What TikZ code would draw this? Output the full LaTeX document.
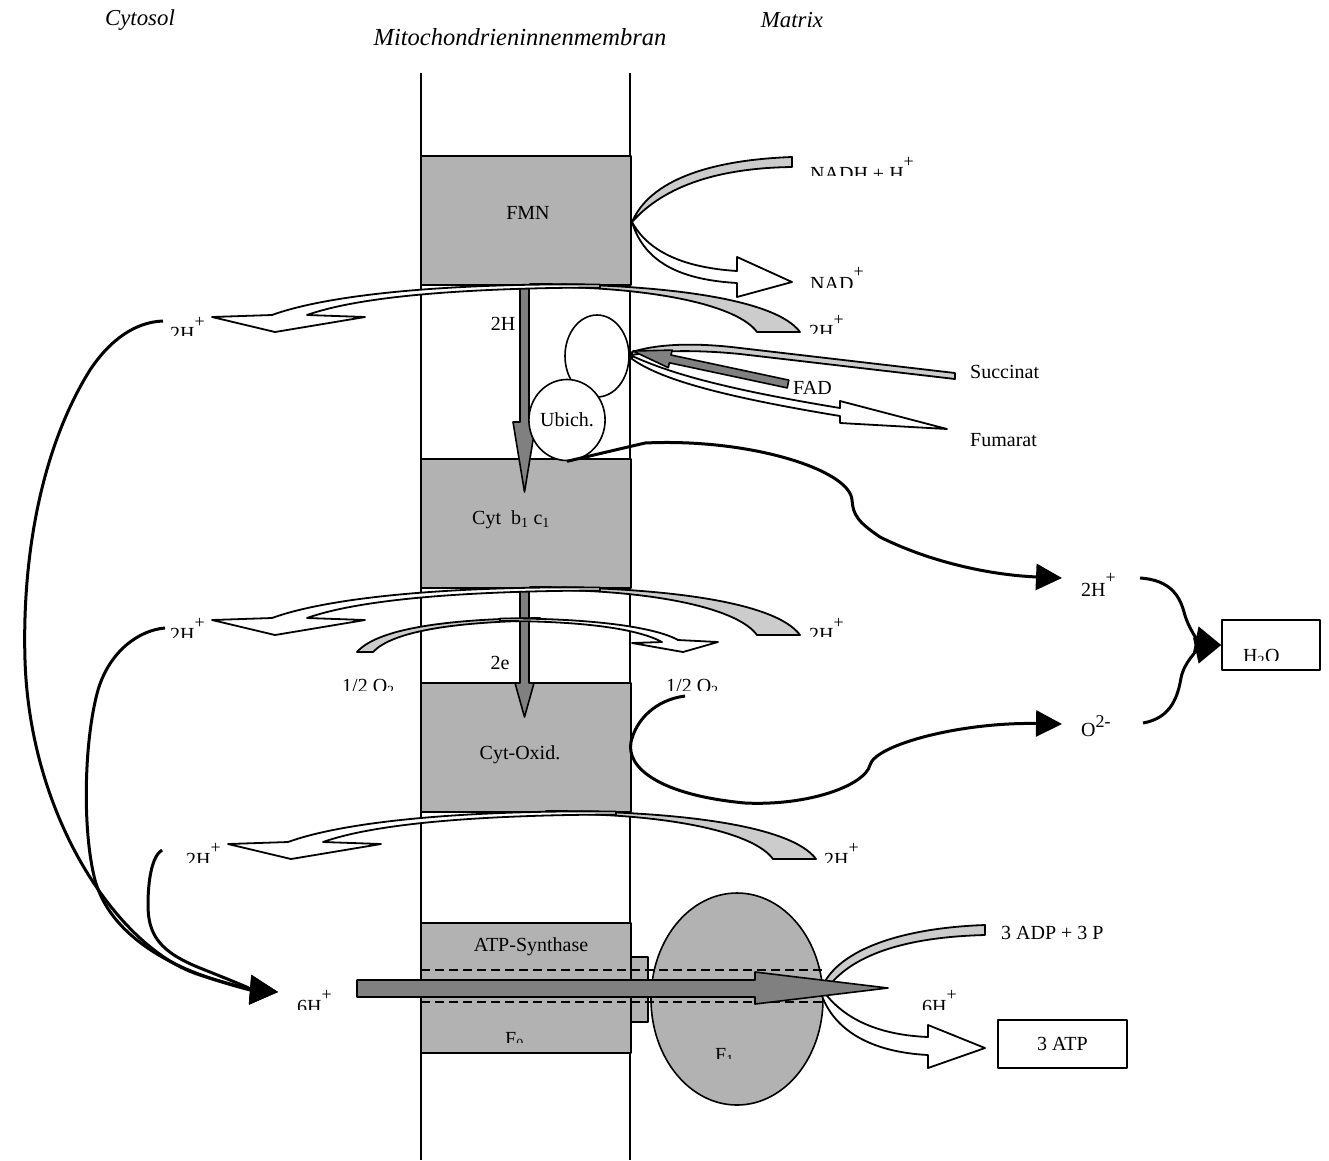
\documentclass[tikz,border=0pt]{standalone}
\usepackage{fontspec}
\setmainfont{Liberation Serif}
\usetikzlibrary{arrows.meta,shapes.geometric}
\definecolor{boxgray}{HTML}{B2B2B2}
\definecolor{arrgray}{HTML}{808080}
\definecolor{lightg}{HTML}{CCCCCC}
\newcommand\spp[1]{\raisebox{13pt}{\fontsize{18}{18}\selectfont #1}}
\newcommand\sppo[1]{\raisebox{9pt}{\fontsize{18}{18}\selectfont #1}}
% clipped label: name, x-left, cap-top, clip-y, text
\newcommand\clab[5]{\begin{scope}\clip (#2-10,#3-40) rectangle (#2+220,#4);\node[lab,anchor=base west] (#1) at (#2,#3+13) {#5};\end{scope}}
\newcommand\protonarc{%
  \filldraw[arcline, fill=lightg] (530,284) .. controls (660,284) and (775,298) .. (800,332) -- (757,332) .. controls (738,306) and (660,289) .. (560,287) -- cycle;
  \filldraw[arcline, fill=white] (600,284.5) .. controls (450,283) and (330,294) .. (272,315) -- (212,317) -- (275,332) -- (365,317) -- (307,315) .. controls (355,298) and (450,288) .. (600,287.5) -- cycle;}
\begin{document}
\begin{tikzpicture}[x=1pt,y=-1pt,line join=round,
  lab/.style={inner sep=0pt, font=\fontsize{20}{23}\selectfont},
  hdr/.style={inner sep=0pt, font=\fontsize{22.8}{26}\selectfont\itshape},
  cbox/.style={draw=black, line width=1.6pt, fill=boxgray, minimum width=210pt, inner sep=0pt},
  mem/.style={line width=1.6pt},
  arcline/.style={draw=black, line width=1.8pt},
  conn/.style={line width=3pt, -{Triangle[length=26pt,width=26pt]}},
  garrow/.style={draw=black, line width=1.6pt, fill=arrgray},
  ell/.style={draw=black, line width=1.6pt, fill=white, ellipse, inner sep=0pt},
  plainbox/.style={draw=black, line width=1.6pt, fill=white, inner sep=0pt}]
\useasboundingbox (0,0) rectangle (1329,1160);
% membrane
\coordinate (mlt) at (421,73); \coordinate (mlb) at (421,1160);
\coordinate (mrt) at (630,73); \coordinate (mrb) at (630,1160);
\draw[mem] (mlt) -- (mlb);
\draw[mem] (mrt) -- (mrb);
% complexes
\node[cbox, minimum height=129pt] (fmn) at (526,220.5) {};
\node[cbox, minimum height=129pt] (cytb) at (526,523.5) {};
\node[cbox, minimum height=129pt] (cytox) at (526,747.5) {};
\node[cbox, minimum height=130pt] (atps) at (526,988) {};
% vertical electron arrows
\filldraw[garrow] (520,286) -- (520,422) -- (513,422) -- (524.5,492) -- (536,422) -- (529,422) -- (529,286) -- cycle;
\filldraw[garrow] (520,589) -- (520,683) -- (515,683) -- (524.5,717) -- (534,683) -- (529,683) -- (529,589) -- cycle;
% ubichinon
\node[ell, minimum width=64pt, minimum height=82pt] (ub1) at (597,356) {};
\node[ell, minimum width=64pt, minimum height=81pt, font=\fontsize{20}{23}\selectfont] (ubich) at (567,420) {Ubich.};
% proton arcs
\protonarc
\begin{scope}[shift={(0,303)}]\protonarc\end{scope}
\begin{scope}[shift={(16,527)}]\protonarc\end{scope}
% small arc (1/2 O2)
\filldraw[arcline, fill=lightg] (357,652) .. controls (378,628) and (450,619) .. (540,618) -- (540,620.5) .. controls (450,622) and (392,632) .. (373,652) -- cycle;
\filldraw[arcline, fill=white] (500,618.5) .. controls (590,618) and (655,627) .. (678,640) -- (718,642) -- (683,652) -- (632,643) -- (662,642) .. controls (640,630) and (590,621) .. (500,621) -- cycle;
% NADH / NAD
\filldraw[arcline, fill=lightg] (632,222) .. controls (650,180) and (710,160) .. (792,157) -- (792,167) .. controls (720,168) and (665,185) .. (632,222) -- cycle;
\filldraw[arcline, fill=white] (632,222) .. controls (650,255) and (690,268) .. (737,271) -- (737,257) -- (792,282) -- (737,297) -- (737,283) .. controls (685,280) and (645,265) .. (632,222) -- cycle;
% Succinat / Fumarat
\filldraw[arcline, fill=lightg] (632,352) .. controls (660,343) and (700,343) .. (740,348) -- (955,373) -- (955,379) -- (740,354) .. controls (700,350) and (660,350) .. (632,355) -- cycle;
\filldraw[arcline, fill=white] (632,356) .. controls (660,368) and (700,385) .. (840,408) -- (840,401) -- (947,429) -- (840,423) -- (840,416) .. controls (700,393) and (655,375) .. (632,359) -- cycle;
% FAD arrow
\filldraw[garrow] (788.8,380.1) -- (671.0,355.0) -- (672.1,350.1) -- (633,351) -- (668.3,367.7) -- (669.4,362.8) -- (787.2,387.9) -- cycle;
% ATP synthase
\node[draw=black, line width=1.6pt, fill=boxgray, minimum width=17pt, minimum height=65pt, inner sep=0pt] (stalk) at (639.5,989.5) {};
\node[draw=black, line width=1.6pt, fill=boxgray, ellipse, minimum width=172pt, minimum height=212pt, inner sep=0pt] (f1) at (737,999) {};
\filldraw[arcline, fill=lightg] (823,985) .. controls (840,950) and (900,928) .. (985,925) -- (985,935) .. controls (905,937) and (850,955) .. (826,990) -- cycle;
\filldraw[arcline, fill=white] (824,992) .. controls (845,1020) and (880,1035) .. (928,1037) -- (928,1025) -- (985,1048) -- (928,1068) -- (928,1055) .. controls (870,1052) and (835,1030) .. (822,996) -- cycle;
\draw[line width=2.2pt, dash pattern=on 9pt off 5pt] (421,970) -- (823,970);
\draw[line width=2.2pt, dash pattern=on 9pt off 5pt] (421,1002) -- (823,1002);
\filldraw[garrow] (357,980) -- (755,980) -- (755,972) -- (888,988) -- (755,1004) -- (755,997) -- (357,997) -- cycle;
% boxes on the right
\node[plainbox, minimum width=98pt, minimum height=50pt] (h2obox) at (1271,645) {};
\node[plainbox, minimum width=129pt, minimum height=48pt, font=\fontsize{20}{23}\selectfont] (atp) at (1062.5,1044) {3 ATP};
% connectors
\coordinate (tipH) at (1062,578);
\coordinate (tipO) at (1062,724);
\coordinate (tip6) at (278,992);
\coordinate (o2start) at (685,696);
\coordinate (hEend) at (1140,578);
\coordinate (oend) at (1143,723);
\coordinate (lA) at (163,321);
\coordinate (lB) at (165,628);
\coordinate (lC) at (162,850);
\draw[conn] (ubich.south) -- (645,443) .. controls (750,438) and (850,470) .. (852,500) .. controls (853,515) and (858,522) .. (880,537) .. controls (930,562) and (990,575) .. (tipH);
\draw[conn] (o2start) .. controls (655,700) and (636,720) .. (631,742) .. controls (626,768) and (660,795) .. (745,803) .. controls (810,806) and (865,785) .. (870,765) .. controls (875,745) and (960,722) .. (tipO);
\draw[conn] (hEend) .. controls (1172,580) and (1180,598) .. (1184,612) .. controls (1188,628) and (1198,640) .. (h2obox.west);
\draw[conn] (oend) .. controls (1172,718) and (1178,695) .. (1181,678) .. controls (1184,662) and (1198,650) .. (h2obox.west);
\draw[conn, -{Triangle[length=28pt,width=29pt]}] (lA) .. controls (135,322) and (110,340) .. (90,370) .. controls (40,450) and (22,560) .. (25,660) .. controls (30,820) and (120,950) .. (200,975) .. controls (230,985) and (250,990) .. (tip6);
\draw[conn, -{Triangle[length=28pt,width=29pt]}] (lB) .. controls (140,630) and (110,650) .. (98,690) .. controls (84,740) and (82,830) .. (95,880) .. controls (110,935) and (170,965) .. (210,978) .. controls (235,986) and (255,990) .. (tip6);
\draw[conn, -{Triangle[length=28pt,width=29pt]}] (lC) .. controls (152,856) and (148,880) .. (148,905) .. controls (148,935) and (160,952) .. (200,968) .. controls (230,980) and (255,990) .. (tip6);
% headers
\node[hdr] (cyto) at (140,20) {Cytosol};
\node[hdr, font=\fontsize{24.5}{28}\selectfont\itshape] (memb) at (520,37) {Mitochondrieninnenmembran};
\node[hdr] (matr) at (792,20) {Matrix};
% labels
\node[lab] (fmnl) at (528,213) {FMN};
\node[lab] (h2) at (503,324) {2H};
\node[lab,anchor=west] (succ) at (970,372) {Succinat};
\node[lab,anchor=west] (fad) at (793,388) {FAD};
\node[lab,anchor=west] (fum) at (970,440) {Fumarat};
\node[lab,anchor=base west] (cytbl) at (472,524) {Cyt\ \ b\textsubscript{1} c\textsubscript{1}};
\node[lab] (e2) at (500,663) {2e};
\node[lab] (cytoxl) at (520,755) {Cyt-Oxid.};
\node[lab] (atpsl) at (531,947) {ATP-Synthase};
\node[lab,anchor=west] (adp) at (1001,933) {3 ADP + 3 P};
\clab{nadh}{810}{167}{175}{NADH + H\spp{+}}
\clab{nad}{810}{277}{287}{NAD\spp{+}}
\clab{hA}{809}{325}{333}{2H\spp{+}}
\clab{hB}{170}{327}{335}{2H\spp{+}}
\clab{hC}{170}{628}{637}{2H\spp{+}}
\clab{hD}{809}{628}{636}{2H\spp{+}}
\clab{oL}{342}{679}{690}{1/2 O\textsubscript{2}}
\clab{oR}{666}{679}{690}{1/2 O\textsubscript{2}}
\clab{hE}{1081}{583}{595}{2H\spp{+}}
\clab{o2m}{1081}{723}{737}{O\sppo{2-}}
\clab{h2o}{1243}{649}{660}{H\textsubscript{2}O}
\clab{hF}{186}{853}{862}{2H\spp{+}}
\clab{hG}{824}{853}{862}{2H\spp{+}}
\clab{sixL}{297}{1000}{1009}{6H\spp{+}}
\clab{sixR}{922}{1000}{1009}{6H\spp{+}}
\clab{fo}{505}{1032}{1042}{F\textsubscript{0}}
\clab{fe}{715}{1048}{1058}{F\textsubscript{1}}
\end{tikzpicture}
\end{document}
